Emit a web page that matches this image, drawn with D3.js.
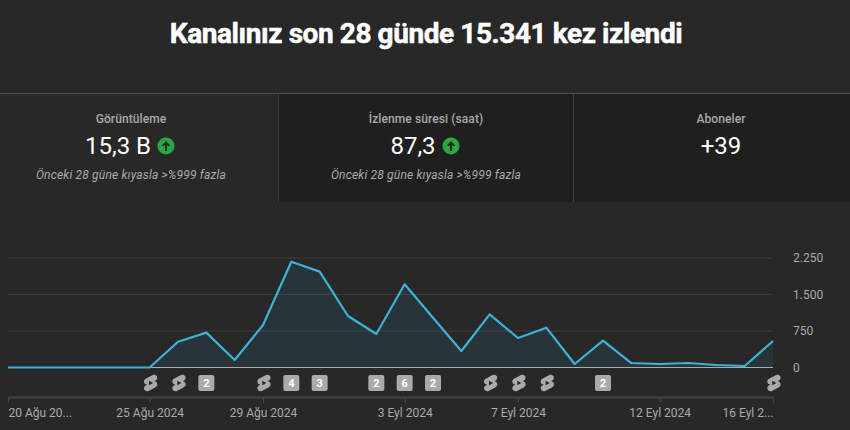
<!DOCTYPE html>
<html>
<head>
<meta charset="utf-8">
<script src="https://cdnjs.cloudflare.com/ajax/libs/d3/7.8.5/d3.min.js"></script>
<style>
	html, body { margin: 0; padding: 0; background: #282828; overflow: hidden; }
	svg { display: block; font-family: Roboto, sans-serif; }
</style>
</head>
<body>
<div id="chart"></div>
<script>
// daily views, 20 Aug - 16 Sep 2024
const days = ["20 Ağu", "21 Ağu", "22 Ağu", "23 Ağu", "24 Ağu", "25 Ağu", "26 Ağu", "27 Ağu", "28 Ağu", "29 Ağu", "30 Ağu", "31 Ağu",
	"1 Eyl", "2 Eyl", "3 Eyl", "4 Eyl", "5 Eyl", "6 Eyl", "7 Eyl", "8 Eyl", "9 Eyl", "10 Eyl", "11 Eyl", "12 Eyl", "13 Eyl", "14 Eyl", "15 Eyl", "16 Eyl"];
const views = [0, 0, 0, 0, 0, 0, 530, 716, 154, 873, 2174, 1970, 1058, 688, 1709, 1023, 339, 1092, 606, 818, 72, 551, 92, 72, 92, 51, 31, 544];

const tickDays = ["20 Ağu", "25 Ağu", "29 Ağu", "3 Eyl", "7 Eyl", "12 Eyl", "16 Eyl"];
const tickLabels = ["20 Ağu 20...", "25 Ağu 2024", "29 Ağu 2024", "3 Eyl 2024", "7 Eyl 2024", "12 Eyl 2024", "16 Eyl 2..."];
const yTicks = [0, 750, 1500, 2250];

// upload markers under the chart ("s" = shorts icon, number = count badge)
const markerDays = ["25 Ağu", "26 Ağu", "27 Ağu", "29 Ağu", "30 Ağu", "31 Ağu", "2 Eyl", "3 Eyl", "4 Eyl", "6 Eyl", "7 Eyl", "8 Eyl", "10 Eyl", "16 Eyl"];
const markerValues = ["s", "s", "2", "s", "4", "3", "2", "6", "2", "s", "s", "s", "2", "s"];

const cardTitles = ["Görüntüleme", "İzlenme süresi (saat)", "Aboneler"];
const cardValues = ["15,3 B", "87,3", "+39"];
const cardNotes = ["Önceki 28 güne kıyasla >%999 fazla", "Önceki 28 güne kıyasla >%999 fazla", ""];

const shortsPath = "M17.77 10.32l-1.2-.5L18 9.06c1.84-.96 2.53-3.23 1.56-5.06s-3.24-2.53-5.07-1.56L6 6.94c-1.29.68-2.07 2.04-2 3.49.07 1.42.93 2.67 2.22 3.25.03.01 1.2.5 1.2.5L6 14.93c-1.83.97-2.53 3.24-1.56 5.07.97 1.83 3.24 2.53 5.07 1.56l8.5-4.5c1.29-.68 2.06-2.04 1.99-3.49-.07-1.42-.94-2.68-2.23-3.25zM10 14.65v-5.3L15 12l-5 2.65z";

const svg = d3.select("#chart").append("svg")
	.attr("width", 850)
	.attr("height", 430);

svg.append("rect").attr("width", 850).attr("height", 430).attr("fill", "#282828");

// title
svg.append("text")
	.attr("x", 426)
	.attr("y", 43)
	.attr("text-anchor", "middle")
	.attr("fill", "#fff")
	.attr("stroke", "#fff")
	.attr("stroke-width", 0.5)
	.attr("font-size", 28)
	.attr("font-weight", 700)
	.attr("letter-spacing", -0.42)
	.text("Kanalınız son 28 günde 15.341 kez izlendi");

// cards
const cardEdges = [0, 279, 574, 850];
const cardCenters = [131, 426, 721];
const valueOffsets = [-13, -13, 0];
const arrowOffsets = [35, 25];

svg.selectAll(".card-bg")
	.data([1, 2])
	.enter().append("rect")
	.attr("x", d => cardEdges[d])
	.attr("y", 94)
	.attr("width", d => cardEdges[d + 1] - cardEdges[d])
	.attr("height", 108)
	.attr("fill", "#1f1f1f");

svg.append("line").attr("x1", 0).attr("x2", 850).attr("y1", 93.5).attr("y2", 93.5).attr("stroke", "#4d4d4d");

svg.selectAll(".card-sep")
	.data([1, 2])
	.enter().append("line")
	.attr("x1", d => cardEdges[d] - 0.5)
	.attr("x2", d => cardEdges[d] - 0.5)
	.attr("y1", 94)
	.attr("y2", 202)
	.attr("stroke", "#3d3d3d");

const cards = svg.selectAll(".card")
	.data(cardTitles)
	.enter().append("g")
	.attr("transform", (d, i) => "translate(" + cardCenters[i] + ",0)");

cards.append("text")
	.attr("y", 123)
	.attr("text-anchor", "middle")
	.attr("fill", "#aaa")
	.attr("font-size", 12)
	.attr("font-weight", 500)
	.attr("letter-spacing", 0.1)
	.text(d => d);

cards.append("text")
	.attr("x", (d, i) => valueOffsets[i])
	.attr("y", 154)
	.attr("text-anchor", "middle")
	.attr("fill", "#fff")
	.attr("font-size", 24)
	.text((d, i) => cardValues[i]);

cards.append("text")
	.attr("y", 179)
	.attr("text-anchor", "middle")
	.attr("fill", "#aaa")
	.attr("font-size", 12)
	.attr("font-style", "italic")
	.attr("letter-spacing", 0.18)
	.text((d, i) => cardNotes[i]);

// green up arrows
const arrows = cards.filter((d, i) => i < 2).append("g")
	.attr("transform", (d, i) => "translate(" + arrowOffsets[i] + ",146)");

arrows.append("circle").attr("r", 8.5).attr("fill", "#2ba640");
arrows.append("path")
	.attr("d", "M0 -5L4 -0.8L2.6 0.5L1 -1.2V5H-1V-1.2L-2.6 0.5L-4 -0.8Z")
	.attr("fill", "#1f2a20");

// scales
const x = d3.scalePoint().domain(days).range([8, 773]);
const y = d3.scaleLinear().domain([0, 2250]).range([367.5, 258]);

const trLocale = d3.formatLocale({ decimal: ",", thousands: ".", grouping: [3], currency: ["", "₺"] });

// gridlines
svg.selectAll(".grid")
	.data(yTicks.slice(1))
	.enter().append("line")
	.attr("x1", 8)
	.attr("x2", 773)
	.attr("y1", d => y(d))
	.attr("y2", d => y(d))
	.attr("stroke", "#3b3b3b")
	.attr("stroke-width", 1);

// area + line
const area = d3.area()
	.x((d, i) => x(days[i]))
	.y0(y(0))
	.y1(d => y(d));

const line = d3.line()
	.x((d, i) => x(days[i]))
	.y(d => y(d));

svg.append("path")
	.datum(views)
	.attr("fill", "#3ea6d0")
	.attr("fill-opacity", 0.1)
	.attr("d", area);

svg.append("line").attr("x1", 8).attr("x2", 773).attr("y1", y(0)).attr("y2", y(0)).attr("stroke", "#aaa");

svg.append("path")
	.datum(views)
	.attr("fill", "none")
	.attr("stroke", "#3db2d8")
	.attr("stroke-width", 2.2)
	.attr("stroke-linejoin", "round")
	.attr("d", line);

// y axis
const yAxis = d3.axisRight(y)
	.tickValues(yTicks)
	.tickSize(0)
	.tickPadding(0)
	.tickFormat(trLocale.format(",d"));

const yG = svg.append("g")
	.attr("transform", "translate(793,0)")
	.call(yAxis);
yG.select(".domain").remove();
yG.selectAll("text")
	.attr("fill", "#aaa")
	.attr("font-size", 12)
	.attr("font-family", "Roboto, sans-serif");

// x axis
const xAxis = d3.axisBottom(x)
	.tickValues(tickDays)
	.tickSizeInner(6)
	.tickSizeOuter(0)
	.tickPadding(5)
	.tickFormat((d, i) => tickLabels[i]);

const xG = svg.append("g")
	.attr("transform", "translate(0,397)")
	.call(xAxis);
xG.select(".domain").attr("stroke", "#444").attr("stroke-width", 2);
xG.selectAll("line").attr("stroke", "#444");
xG.selectAll("text")
	.attr("fill", "#aaa")
	.attr("font-size", 12)
	.attr("font-family", "Roboto, sans-serif")
	.attr("text-anchor", (d, i) => i === 0 ? "start" : i === tickDays.length - 1 ? "end" : "middle");

// markers
const markers = svg.selectAll(".marker")
	.data(markerValues)
	.enter().append("g")
	.attr("transform", (d, i) => "translate(" + x(markerDays[i]) + ",383)");

const badges = markers.filter(d => d !== "s");

badges.append("rect")
	.attr("x", -8)
	.attr("y", -8)
	.attr("width", 16)
	.attr("height", 16)
	.attr("rx", 2)
	.attr("fill", "#aaa");

badges.append("text")
	.attr("y", 4)
	.attr("text-anchor", "middle")
	.attr("fill", "#fff")
	.attr("font-size", 11)
	.attr("font-weight", 700)
	.text(d => d);

markers.filter(d => d === "s").append("path")
	.attr("d", shortsPath)
	.attr("transform", "translate(-9,-10) scale(0.83)")
	.attr("fill", "#aaa");
</script>
</body>
</html>
